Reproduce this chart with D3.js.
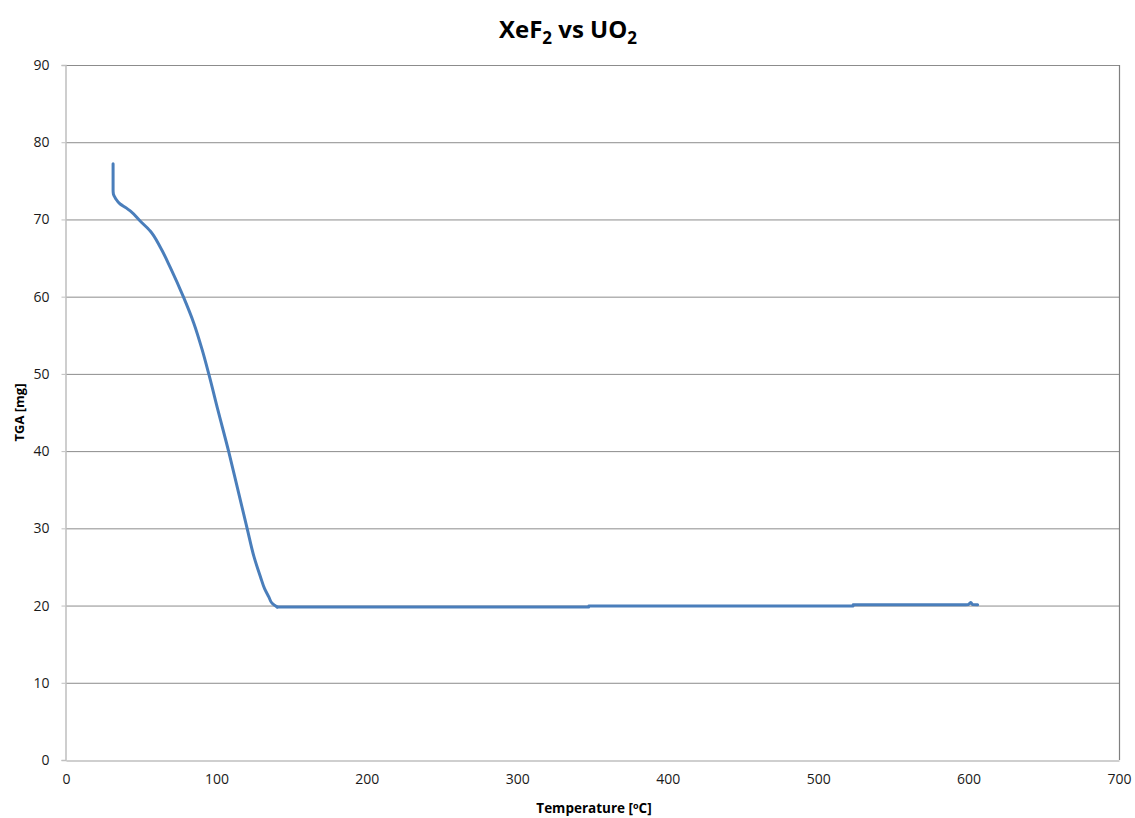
<!DOCTYPE html>
<html>
<head>
<meta charset="utf-8">
<script src="https://cdn.jsdelivr.net/npm/d3@7"></script>
<style>
  body { margin: 0; background: #fff; }
  svg { display: block; }
  text { font-family: "Open Sans", "Liberation Sans", sans-serif; }
</style>
</head>
<body>
<svg id="chart" width="1135" height="818"></svg>
<script>
// ---- Data ----
const temperature = [31.3, 31.3, 31.5, 33, 36, 40, 42.7, 49.3, 56, 62.7, 69.3, 78.2, 84.9, 90.4, 94.9, 101, 108.2, 114, 120.4, 125, 129.3, 132, 134.9, 137, 140.4, 200, 300, 347.5, 347.6, 450, 523.2, 523.3, 598, 600, 601.5, 602.5, 606];
const mass =        [77.2, 73.8, 73.3, 72.7, 72.0, 71.5, 71.1, 69.8, 68.5, 66.4, 63.8, 59.9, 56.6, 53.2, 50.0, 45.3, 39.9, 35.2, 30.0, 26.3, 23.7, 22.2, 21.1, 20.3, 19.8, 19.8, 19.8, 19.8, 19.95, 19.95, 19.95, 20.1, 20.1, 20.15, 20.4, 20.15, 20.1];
const xTicks = [0, 100, 200, 300, 400, 500, 600, 700];
const yTicks = [0, 10, 20, 30, 40, 50, 60, 70, 80, 90];

(function () {
const svg = d3.select("#chart");
const mLeft = 66, mRight = 1119, mTop = 65, mBottom = 760;

const x = d3.scaleLinear().domain([0, 700]).range([mLeft, mRight]);
const y = d3.scaleLinear().domain([0, 90]).range([mBottom, mTop]);

// gridlines
svg.append("g")
  .selectAll("line")
  .data(yTicks.filter(d => d > 0))
  .join("line")
  .attr("x1", mLeft).attr("x2", mRight)
  .attr("y1", d => y(d) + 0.5).attr("y2", d => y(d) + 0.5)
  .attr("stroke", "#8c8c8c").attr("stroke-width", 1);

// right border
svg.append("line")
  .attr("x1", mRight + 0.5).attr("x2", mRight + 0.5)
  .attr("y1", mTop).attr("y2", mBottom)
  .attr("stroke", "#7f7f7f").attr("stroke-width", 1.2);

// axes
const xAxis = svg.append("g").attr("transform", `translate(0,${mBottom + 0.5})`)
  .call(d3.axisBottom(x).tickValues(xTicks).tickSize(0).tickPadding(14));
const yAxis = svg.append("g").attr("transform", `translate(${mLeft - 0.5},0)`)
  .call(d3.axisLeft(y).tickValues(yTicks).tickSize(4).tickPadding(12));
[xAxis, yAxis].forEach(g => {
  g.select(".domain").attr("stroke", "#bfbfbf").attr("stroke-width", 1.5);
  g.selectAll(".tick line").attr("stroke", "#bfbfbf");
  g.selectAll(".tick text")
    .attr("fill", "#1a1a1a")
    .style("font-family", "'Open Sans', 'Liberation Sans', sans-serif")
    .style("font-size", "14px");
});

// curve: smooth descending part (mass strictly decreasing), straight plateau
const pts = temperature.map((t, i) => [t, mass[i]]);
const splitIdx = mass.findIndex((m, i) => i > 0 && m >= mass[i - 1]) - 1;
const desc = pts.slice(0, splitIdx + 1);
const plateau = pts.slice(splitIdx);
const style = p => p.attr("fill", "none")
  .attr("stroke", "#4a7ebb")
  .attr("stroke-width", 3)
  .attr("stroke-linejoin", "round")
  .attr("stroke-linecap", "round");
svg.append("path")
  .datum(desc)
  .attr("d", d3.line().x(d => x(d[0])).y(d => y(d[1])).curve(d3.curveMonotoneY))
  .call(style);
svg.append("path")
  .datum(plateau)
  .attr("d", d3.line().x(d => x(d[0])).y(d => y(d[1])).curve(d3.curveLinear))
  .call(style);

// title
const title = svg.append("text")
  .attr("x", 568).attr("y", 38)
  .attr("text-anchor", "middle")
  .style("font-size", "24px").style("font-weight", "bold")
  .attr("fill", "#000");
title.append("tspan").text("XeF");
title.append("tspan").text("2").attr("dy", 6).style("font-size", "17px");
title.append("tspan").text(" vs UO").attr("dy", -6);
title.append("tspan").text("2").attr("dy", 6).style("font-size", "17px");

// axis titles
const xt = svg.append("text")
  .attr("x", 594).attr("y", 813)
  .attr("text-anchor", "middle")
  .style("font-size", "13.5px").style("font-weight", "bold")
  .attr("fill", "#000");
xt.append("tspan").text("Temperature [");
xt.append("tspan").text("o").attr("dy", -4).style("font-size", "9px");
xt.append("tspan").text("C]").attr("dy", 4);

svg.append("text")
  .attr("transform", `translate(24,${(mTop + mBottom) / 2}) rotate(-90)`)
  .attr("text-anchor", "middle")
  .style("font-size", "13px").style("font-weight", "bold")
  .attr("fill", "#000")
  .text("TGA [mg]");
})();
</script>
</body>
</html>
